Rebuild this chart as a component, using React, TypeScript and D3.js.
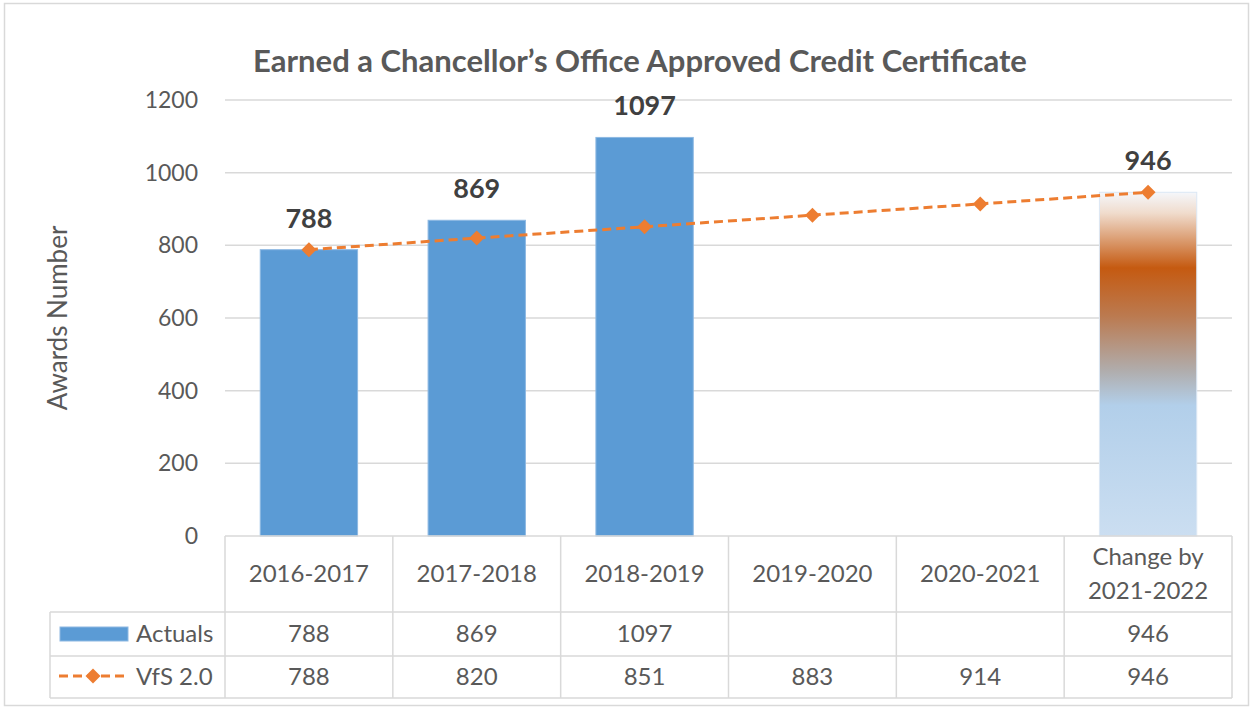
import React from "react";
import * as d3 from "d3";

const categories = ["2016-2017", "2017-2018", "2018-2019", "2019-2020", "2020-2021", "Change by\n2021-2022"];
const actuals: (number | null)[] = [788, 869, 1097, null, null, 946];
const vfs = [788, 820, 851, 883, 914, 946];
const yTicks = [0, 200, 400, 600, 800, 1000, 1200];
const title = "Earned a Chancellor\u2019s Office Approved Credit Certificate";
const yLabel = "Awards Number";
const seriesNames = ["Actuals", "VfS 2.0"];

const W = 1253, H = 710;
const plotL = 225, plotR = 1232, plotT = 100, plotB = 536;
const rowHeadB = 612, row1B = 656, row2B = 698, legendL = 50;
const FONT = "Lato, 'Open Sans', sans-serif";

export default function App() {
  const x = d3.scaleBand<string>().domain(categories).range([plotL, plotR]).paddingInner(0.42).paddingOuter(0.21);
  const xc = d3.scaleBand<string>().domain(categories).range([plotL, plotR]);
  const y = d3.scaleLinear().domain([0, 1200]).range([plotB, plotT]);
  const center = (c: string) => (xc(c) as number) + xc.bandwidth() / 2;
  const line = d3.line<number>().x((_, i) => center(categories[i])).y((d) => y(d));
  const lastIdx = categories.length - 1;
  const diamond = (cx: number, cy: number, r: number) =>
    `M${cx},${cy - r}L${cx + r},${cy}L${cx},${cy + r}L${cx - r},${cy}Z`;
  const gridC = "#d9d9d9";
  const txt = "#595959";
  const tfs = 24;

  return (
    <svg width={W} height={H} style={{ position: "absolute", left: 0, top: 0, background: "#fff" }} fontFamily={FONT}>
      <defs>
        <linearGradient id="grad" x1="0" y1="0" x2="0" y2="1">
          <stop offset="0" stopColor="#f5f7fb" />
          <stop offset="0.06" stopColor="#f0dccd" />
          <stop offset="0.22" stopColor="#c55a11" />
          <stop offset="0.36" stopColor="#bb7a50" />
          <stop offset="0.52" stopColor="#b0adad" />
          <stop offset="0.62" stopColor="#b2cfea" />
          <stop offset="1" stopColor="#cbdef1" />
        </linearGradient>
      </defs>
      <rect x={4.5} y={3.5} width={1244} height={702} fill="#fff" stroke="#d9d9d9" strokeWidth={1.5} />
      <text x={640} y={72} textAnchor="middle" fontSize={31} fontWeight="bold" fill={txt}>{title}</text>
      {yTicks.map((t) => (
        <g key={t}>
          {t > 0 && <line x1={plotL} x2={plotR} y1={y(t)} y2={y(t)} stroke={gridC} strokeWidth={1.5} />}
          <text x={198} y={y(t) + 8} textAnchor="end" fontSize={23} fill={txt}>{t}</text>
        </g>
      ))}
      <text transform={`translate(67,${(plotT + plotB) / 2}) rotate(-90)`} textAnchor="middle" fontSize={26} fill={txt}>{yLabel}</text>
      {categories.map((c, i) => {
        const v = actuals[i];
        if (v == null) return null;
        const isLast = i === lastIdx;
        return (
          <rect key={c} x={x(c)} y={y(v)} width={x.bandwidth()} height={plotB - y(v)}
            fill={isLast ? "url(#grad)" : "#5b9bd5"} stroke={isLast ? "#dbe7f4" : "#8db8e2"} strokeWidth={1} />
        );
      })}
      <path d={line(vfs) as string} fill="none" stroke="#ed7d31" strokeWidth={3} strokeDasharray="9,5" />
      {vfs.map((v, i) => (
        <path key={i} d={diamond(center(categories[i]), y(v), 7.5)} fill="#ed7d31" />
      ))}
      {categories.map((c, i) => {
        const v = actuals[i];
        if (v == null) return null;
        return (
          <text key={c} x={center(c)} y={y(v) - 22} textAnchor="middle" fontSize={27} fontWeight="bold" fill="#404040">{v}</text>
        );
      })}
      <g stroke={gridC} strokeWidth={1.5} fill="none">
        <line x1={plotL} x2={plotR} y1={plotB} y2={plotB} />
        <line x1={legendL} x2={plotR} y1={rowHeadB} y2={rowHeadB} />
        <line x1={legendL} x2={plotR} y1={row1B} y2={row1B} />
        <line x1={legendL} x2={plotR} y1={row2B} y2={row2B} />
        <line x1={legendL} x2={legendL} y1={rowHeadB} y2={row2B} />
        {categories.map((c) => (
          <line key={c} x1={xc(c)} x2={xc(c)} y1={plotB} y2={row2B} />
        ))}
        <line x1={plotR} x2={plotR} y1={plotB} y2={row2B} />
      </g>
      {categories.map((c) => {
        const parts = c.split("\n");
        const cy = (plotB + rowHeadB) / 2;
        return (
          <text key={c} x={center(c)} textAnchor="middle" fontSize={tfs} fill={txt}>
            {parts.map((p, j) => (
              <tspan key={j} x={center(c)} y={cy + 8 + (j - (parts.length - 1) / 2) * 34}>{p}</tspan>
            ))}
          </text>
        );
      })}
      {categories.map((c, i) => (
        <g key={c}>
          {actuals[i] != null && (
            <text x={center(c)} y={(rowHeadB + row1B) / 2 + 8} textAnchor="middle" fontSize={tfs} fill={txt}>{actuals[i]}</text>
          )}
          <text x={center(c)} y={(row1B + row2B) / 2 + 8} textAnchor="middle" fontSize={tfs} fill={txt}>{vfs[i]}</text>
        </g>
      ))}
      <rect x={60} y={627} width={68} height={14} fill="#5b9bd5" stroke="#8db8e2" strokeWidth={1} />
      <text x={136} y={(rowHeadB + row1B) / 2 + 8} fontSize={tfs} fill={txt}>{seriesNames[0]}</text>
      <line x1={59} x2={129} y1={676} y2={676} stroke="#ed7d31" strokeWidth={3} strokeDasharray="9,5" />
      <path d={diamond(93, 676, 7.5)} fill="#ed7d31" />
      <text x={136} y={(row1B + row2B) / 2 + 8} fontSize={tfs} fill={txt}>{seriesNames[1]}</text>
    </svg>
  );
}
